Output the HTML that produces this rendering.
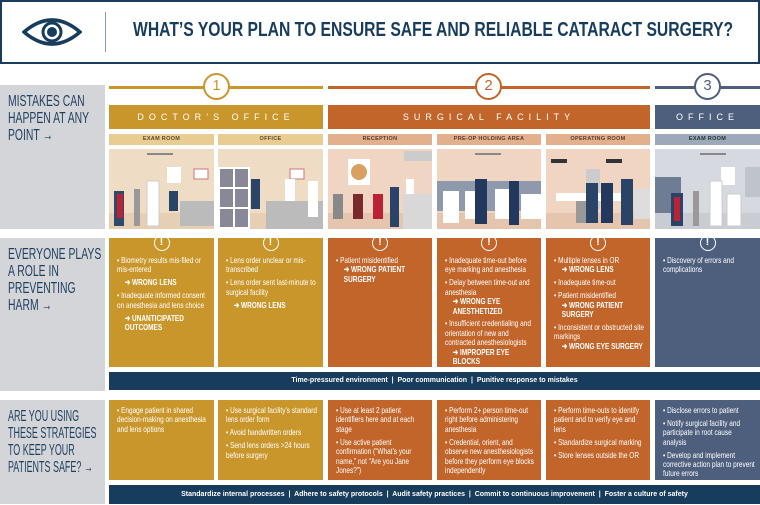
<!DOCTYPE html>
<html><head><meta charset="utf-8"><style>
*{margin:0;padding:0;box-sizing:border-box}
body{width:760px;height:505px;background:#fff;position:relative;overflow:hidden;font-family:"Liberation Sans",sans-serif;}
.a{position:absolute}
.c{display:block;width:128%;transform:scaleX(0.78);transform-origin:left top}
.hdr{left:0;top:0;width:760px;height:64px;border:2px solid #173c5c;}
.title{left:133px;top:19px;font-size:20px;font-weight:bold;color:#173c5c;white-space:nowrap;transform:scaleX(0.785);transform-origin:left top}
.lab{left:0;width:105px;background:#d3d5d9;color:#1f3f5f;font-size:16px;line-height:17px;padding:8px 0 0 8px;overflow:hidden;white-space:nowrap}
.lab .c{width:200px;transform:scaleX(0.65)}
.bar{height:3px;top:86px}
.circ{width:27px;height:27px;border-radius:50%;background:#fff;border:2.5px solid;text-align:center;font-size:15px;line-height:22px;top:73px}
.sec{top:105px;height:24px;color:#fff;font-size:9px;letter-spacing:5px;text-align:center;line-height:24px}
.sub{top:134px;height:11px;font-size:5.5px;font-weight:bold;text-align:center;line-height:11px;letter-spacing:.3px}
.ill{top:149px;height:80px;overflow:hidden}
.box{color:#fff;font-size:8.3px;line-height:9.4px;padding:4px 4px 0 8px;overflow:hidden}
.box p{margin-bottom:3.5px}
.box b{display:block;padding-left:10px;font-weight:bold}
.ex{position:absolute;left:50%;top:-3px;margin-left:-8px;width:16px;height:16px;border:1.5px solid #fff;border-radius:50%;text-align:center;font-weight:bold;font-size:11px;line-height:13px;color:#fff}
.navy{background:#173c5c;color:#fff;font-size:7px;text-align:center;font-weight:bold}
.g{background:#c9962b}.o{background:#c1652a}.s{background:#4e5f7e}
.gl{background:#e8cc92;color:#5a4a2a}.ol{background:#e3b08e;color:#5a3a2a}.sl{background:#9da8ba;color:#233}
.r3 .box{padding-top:6px}
</style></head><body>
<div class="a hdr"></div>
<svg class="a" style="left:22px;top:16px" width="60" height="32" viewBox="0 0 60 32"><path d="M2 16 Q30 -8 58 16 Q30 40 2 16Z" fill="none" stroke="#173c5c" stroke-width="3.5"/><circle cx="30" cy="16" r="9" fill="none" stroke="#173c5c" stroke-width="3"/><circle cx="30" cy="16" r="5" fill="#173c5c"/></svg>
<div class="a" style="left:105px;top:12px;width:1px;height:40px;background:#8a9aa8"></div>
<div class="a title">WHAT’S YOUR PLAN TO ENSURE SAFE AND RELIABLE CATARACT SURGERY?</div>

<div class="a lab" style="top:85px;height:144px"><span class="c">MISTAKES CAN<br>HAPPEN AT ANY<br>POINT →</span></div>
<div class="a lab" style="top:238px;height:153px"><span class="c">EVERYONE PLAYS<br>A ROLE IN<br>PREVENTING<br>HARM →</span></div>
<div class="a lab" style="top:400px;height:104px"><span class="c" style="transform:scaleX(0.56)">ARE YOU USING<br>THESE STRATEGIES<br>TO KEEP YOUR<br>PATIENTS SAFE? →</span></div>

<div class="a bar" style="left:109px;width:214px;background:#c9962b"></div>
<div class="a bar" style="left:328px;width:322px;background:#c1652a"></div>
<div class="a bar" style="left:655px;width:105px;background:#4e5f7e"></div>
<div class="a circ" style="left:203px;border-color:#c9962b;color:#c9962b">1</div>
<div class="a circ" style="left:475px;border-color:#c1652a;color:#c1652a">2</div>
<div class="a circ" style="left:694px;border-color:#4e5f7e;color:#4e5f7e">3</div>

<div class="a sec g" style="left:109px;width:214px">DOCTOR’S OFFICE</div>
<div class="a sec o" style="left:328px;width:322px">SURGICAL FACILITY</div>
<div class="a sec s" style="left:655px;width:105px">OFFICE</div>

<div class="a sub gl" style="left:109px;width:105px">EXAM ROOM</div>
<div class="a sub gl" style="left:218px;width:105px">OFFICE</div>
<div class="a sub ol" style="left:328px;width:104px">RECEPTION</div>
<div class="a sub ol" style="left:437px;width:104px">PRE-OP HOLDING AREA</div>
<div class="a sub ol" style="left:546px;width:104px">OPERATING ROOM</div>
<div class="a sub sl" style="left:655px;width:105px">EXAM ROOM</div>

<svg class="a ill" style="left:109px" width="105" height="80"><rect width="105" height="80" fill="#efdcc4"/><rect y="64" width="105" height="16" fill="#e6cfb2"/><rect x="38" y="4" width="26" height="2" fill="#888"/><rect x="58" y="18" width="14" height="16" fill="#fff"/><rect x="85" y="20" width="14" height="10" fill="#fff" stroke="#c77" /><rect x="5" y="42" width="10" height="35" fill="#2f4a6a"/><rect x="8" y="45" width="6" height="24" fill="#b23"/><rect x="25" y="40" width="6" height="37" fill="#999"/><rect x="38" y="32" width="12" height="45" fill="#fff" stroke="#ccc"/><rect x="60" y="42" width="9" height="20" fill="#2a4468"/><rect x="71" y="52" width="34" height="25" fill="#bbb"/></svg>
<svg class="a ill" style="left:218px" width="105" height="80"><rect width="105" height="80" fill="#efdcc4"/><rect y="64" width="105" height="16" fill="#e6cfb2"/><rect x="0" y="18" width="32" height="62" fill="#fff"/><rect x="2" y="20" width="13" height="18" fill="#889"/><rect x="17" y="20" width="13" height="18" fill="#889"/><rect x="2" y="40" width="13" height="18" fill="#889"/><rect x="17" y="40" width="13" height="18" fill="#889"/><rect x="2" y="60" width="13" height="18" fill="#889"/><rect x="17" y="60" width="13" height="18" fill="#889"/><rect x="72" y="20" width="14" height="10" fill="#fff" stroke="#c77"/><rect x="33" y="30" width="9" height="30" fill="#2a4468"/><rect x="48" y="52" width="57" height="28" fill="#bbb"/><rect x="67" y="30" width="10" height="22" fill="#fff"/><rect x="90" y="32" width="10" height="36" fill="#fff"/></svg>
<svg class="a ill" style="left:328px" width="104" height="80"><rect width="104" height="80" fill="#f0d6c2"/><rect y="64" width="104" height="16" fill="#e5c5ad"/><rect x="20" y="10" width="22" height="26" fill="#fff"/><circle cx="31" cy="23" r="8" fill="#d9a060"/><rect x="5" y="45" width="10" height="25" fill="#888"/><rect x="25" y="45" width="10" height="25" fill="#7a2a2a"/><rect x="45" y="45" width="10" height="25" fill="#b23"/><rect x="62" y="38" width="9" height="40" fill="#2a4468"/><rect x="75" y="45" width="29" height="35" fill="#d8d8d8"/><rect x="78" y="30" width="8" height="15" fill="#fff"/><rect x="76" y="2" width="28" height="10" fill="#ccc"/></svg>
<svg class="a ill" style="left:437px" width="104" height="80"><rect width="104" height="80" fill="#f0d6c2"/><rect x="0" y="32" width="104" height="30" fill="#8e9aab"/><rect y="64" width="104" height="16" fill="#e5c5ad"/><rect x="38" y="4" width="26" height="2" fill="#888"/><rect x="6" y="42" width="16" height="32" fill="#fff"/><rect x="28" y="42" width="22" height="28" fill="#fff"/><rect x="38" y="30" width="12" height="45" fill="#22385c"/><rect x="58" y="40" width="14" height="30" fill="#fff"/><rect x="72" y="32" width="10" height="44" fill="#22385c"/><rect x="84" y="45" width="20" height="25" fill="#fff"/></svg>
<svg class="a ill" style="left:546px" width="104" height="80"><rect width="104" height="80" fill="#f0d6c2"/><rect y="64" width="104" height="16" fill="#e5c5ad"/><rect x="40" y="20" width="14" height="40" fill="#ccc"/><rect x="10" y="44" width="65" height="8" fill="#fff"/><rect x="30" y="52" width="20" height="22" fill="#999"/><rect x="40" y="34" width="12" height="40" fill="#2a4468"/><rect x="55" y="34" width="12" height="40" fill="#22385c"/><rect x="75" y="30" width="12" height="46" fill="#2a4468"/><rect x="88" y="40" width="16" height="30" fill="#ddd"/><rect x="5" y="10" width="16" height="4" fill="#333"/><rect x="60" y="10" width="16" height="4" fill="#333"/></svg>
<svg class="a ill" style="left:655px" width="105" height="80"><rect width="105" height="80" fill="#d6d9df"/><rect x="0" y="28" width="26" height="40" fill="#6e7d93"/><rect y="64" width="105" height="16" fill="#c9ccd3"/><rect x="45" y="4" width="26" height="2" fill="#888"/><rect x="66" y="18" width="14" height="18" fill="#fff"/><rect x="90" y="18" width="15" height="30" fill="#bfc3ca"/><rect x="16" y="44" width="12" height="33" fill="#2a4468"/><rect x="19" y="48" width="6" height="24" fill="#b23"/><rect x="38" y="42" width="6" height="35" fill="#999"/><rect x="55" y="32" width="12" height="45" fill="#fff" stroke="#ccc"/><rect x="72" y="45" width="14" height="32" fill="#fff" stroke="#ccc"/></svg>

<div class="a box g" style="left:109px;top:238px;width:105px;height:129px"><span class="ex">!</span><div style="height:14px"></div><span class="c"><p>• Biometry results mis-filed or mis-entered</p><p><b>➜ WRONG LENS</b></p><p>• Inadequate informed consent on anesthesia and lens choice</p><p><b>➜ UNANTICIPATED OUTCOMES</b></p></span></div>
<div class="a box g" style="left:218px;top:238px;width:105px;height:129px"><span class="ex">!</span><div style="height:14px"></div><span class="c"><p>• Lens order unclear or mis-transcribed</p><p>• Lens order sent last-minute to surgical facility</p><p><b>➜ WRONG LENS</b></p></span></div>
<div class="a box o" style="left:328px;top:238px;width:104px;height:129px"><span class="ex">!</span><div style="height:14px"></div><span class="c"><p>• Patient misidentified<b>➜ WRONG PATIENT SURGERY</b></p></span></div>
<div class="a box o" style="left:437px;top:238px;width:104px;height:129px"><span class="ex">!</span><div style="height:14px"></div><span class="c"><p>• Inadequate time-out before eye marking and anesthesia</p><p>• Delay between time-out and anesthesia<b>➜ WRONG EYE ANESTHETIZED</b></p><p>• Insufficient credentialing and orientation of new and contracted anesthesiologists<b>➜ IMPROPER EYE BLOCKS</b></p></span></div>
<div class="a box o" style="left:546px;top:238px;width:104px;height:129px"><span class="ex">!</span><div style="height:14px"></div><span class="c"><p>• Multiple lenses in OR<b>➜ WRONG LENS</b></p><p>• Inadequate time-out</p><p>• Patient misidentified<b>➜ WRONG PATIENT SURGERY</b></p><p>• Inconsistent or obstructed site markings<b>➜ WRONG EYE SURGERY</b></p></span></div>
<div class="a box s" style="left:655px;top:238px;width:105px;height:129px"><span class="ex">!</span><div style="height:14px"></div><span class="c"><p>• Discovery of errors and complications</p></span></div>
<div class="a navy" style="left:109px;top:372px;width:651px;height:18px;line-height:18px">Time-pressured environment &nbsp;|&nbsp; Poor communication &nbsp;|&nbsp; Punitive response to mistakes</div>

<div class="r3">
<div class="a box g" style="left:109px;top:400px;width:105px;height:80px"><span class="c"><p>• Engage patient in shared decision-making on anesthesia and lens options</p></span></div>
<div class="a box g" style="left:218px;top:400px;width:105px;height:80px"><span class="c"><p>• Use surgical facility’s standard lens order form</p><p>• Avoid handwritten orders</p><p>• Send lens orders &gt;24 hours before surgery</p></span></div>
<div class="a box o" style="left:328px;top:400px;width:104px;height:80px"><span class="c"><p>• Use at least 2 patient identifiers here and at each stage</p><p>• Use active patient confirmation (“What’s your name,” not “Are you Jane Jones?”)</p></span></div>
<div class="a box o" style="left:437px;top:400px;width:104px;height:80px"><span class="c"><p>• Perform 2+ person time-out right before administering anesthesia</p><p>• Credential, orient, and observe new anesthesiologists before they perform eye blocks independently</p></span></div>
<div class="a box o" style="left:546px;top:400px;width:104px;height:80px"><span class="c"><p>• Perform time-outs to identify patient and to verify eye and lens</p><p>• Standardize surgical marking</p><p>• Store lenses outside the OR</p></span></div>
<div class="a box s" style="left:655px;top:400px;width:105px;height:80px"><span class="c"><p>• Disclose errors to patient</p><p>• Notify surgical facility and participate in root cause analysis</p><p>• Develop and implement corrective action plan to prevent future errors</p></span></div>
</div>
<div class="a navy" style="left:109px;top:485px;width:651px;height:19px;line-height:19px">Standardize internal processes &nbsp;|&nbsp; Adhere to safety protocols &nbsp;|&nbsp; Audit safety practices &nbsp;|&nbsp; Commit to continuous improvement &nbsp;|&nbsp; Foster a culture of safety</div>
</body></html>
